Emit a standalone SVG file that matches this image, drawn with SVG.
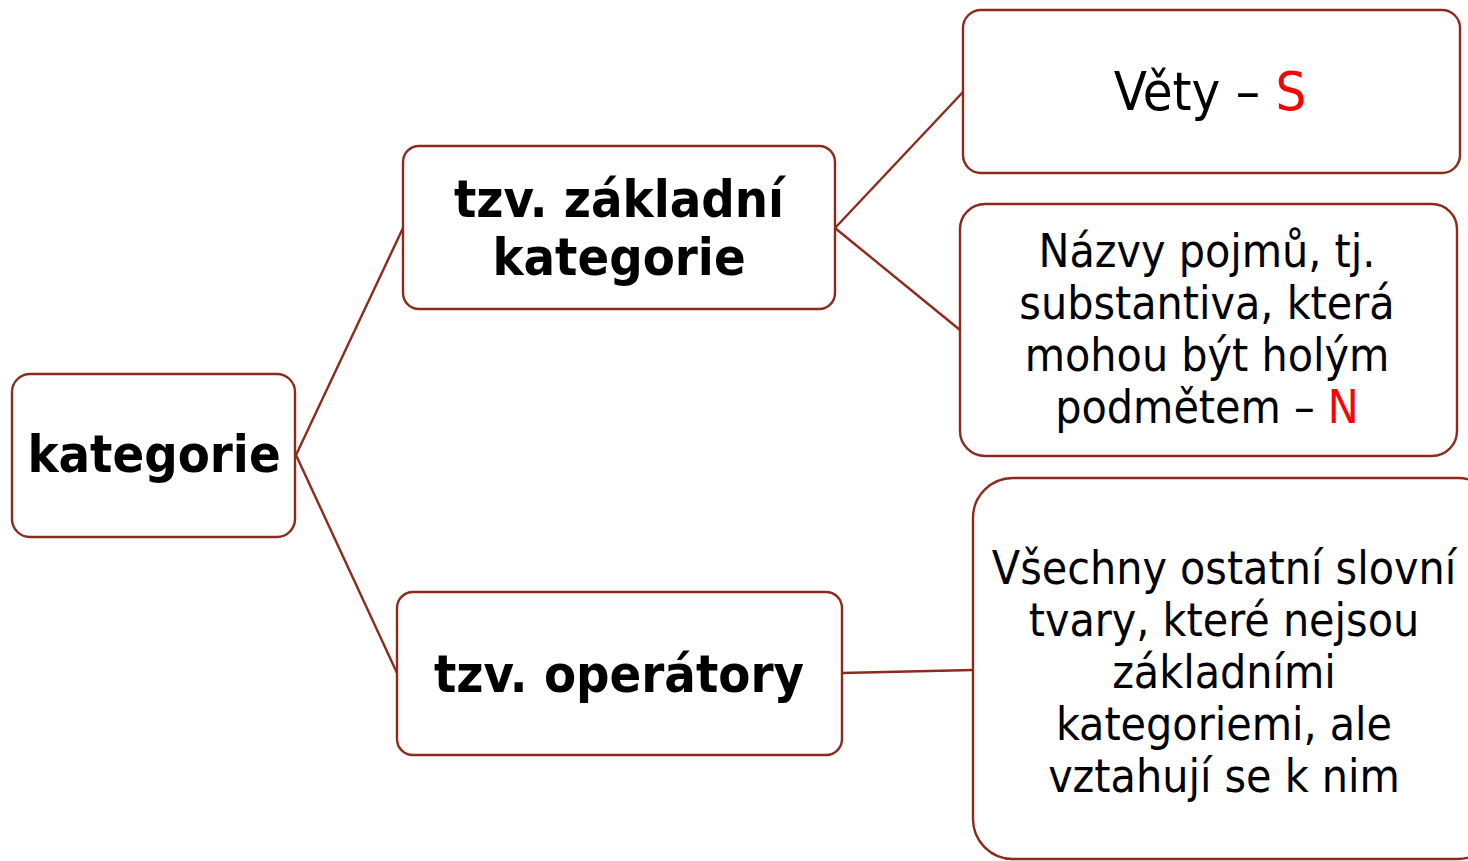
<svg xmlns="http://www.w3.org/2000/svg" width="1468" height="861" viewBox="0 0 1468 861">
<style>
.box{fill:#fff;stroke:#8C2A1E;stroke-width:2.4}
.conn line{stroke:#8C2A1E;stroke-width:2.4}
text{font-family:"DejaVu Sans Condensed","DejaVu Sans",sans-serif;font-stretch:condensed;text-anchor:middle;fill:#000}
.b{font-weight:bold;font-size:52px}
.r{font-size:46px}
.big{font-size:54px}
.red{fill:#FF0000}
</style>
<rect width="1468" height="861" fill="#fff"/>
<g class="conn">
<line x1="296" y1="455" x2="403" y2="228"/>
<line x1="296" y1="455" x2="397" y2="673"/>
<line x1="835" y1="228" x2="963" y2="92"/>
<line x1="835" y1="228" x2="960" y2="330"/>
<line x1="842" y1="673" x2="973" y2="670"/>
</g>
<g id="n-kategorie">
<rect class="box" x="12" y="374" width="283" height="163" rx="18"/>
<text class="b" x="154" y="472">kategorie</text>
</g>
<g id="n-zakladni">
<rect class="box" x="403" y="146" width="432" height="163" rx="16"/>
<text class="b" x="619" y="217">tzv. základní</text>
<text class="b" x="619" y="275">kategorie</text>
</g>
<g id="n-operatory">
<rect class="box" x="397" y="592" width="445" height="163" rx="16"/>
<text class="b" x="619" y="692">tzv. operátory</text>
</g>
<g id="n-vety">
<rect class="box" x="963" y="10" width="497" height="163" rx="18"/>
<text class="big" x="1210" y="110">Věty – <tspan class="red">S</tspan></text>
</g>
<g id="n-nazvy">
<rect class="box" x="960" y="204" width="497" height="252" rx="25"/>
<text class="r" x="1207" y="267">Názvy pojmů, tj.</text>
<text class="r" x="1207" y="319">substantiva, která</text>
<text class="r" x="1207" y="371">mohou být holým</text>
<text class="r" x="1207" y="423">podmětem – <tspan class="red">N</tspan></text>
</g>
<g id="n-vsechny">
<rect class="box" x="973" y="478" width="525" height="381" rx="40"/>
<text class="r" x="1224" y="584">Všechny ostatní slovní</text>
<text class="r" x="1224" y="636">tvary, které nejsou</text>
<text class="r" x="1224" y="688">základními</text>
<text class="r" x="1224" y="740">kategoriemi, ale</text>
<text class="r" x="1224" y="792">vztahují se k nim</text>
</g>
</svg>
